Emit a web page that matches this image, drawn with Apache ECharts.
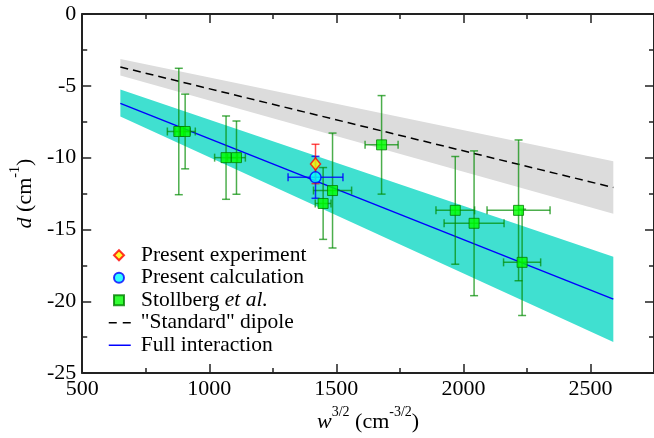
<!DOCTYPE html>
<html><head><meta charset="utf-8">
<script src="https://cdn.jsdelivr.net/npm/echarts@6/dist/echarts.min.js"></script>
<style>html,body{margin:0;padding:0;background:#fff}#c{width:654px;height:438px}</style>
</head><body><div id="c"></div>
<script>
// ---- data ----
const xTickInterval = 500;
const yTickInterval = 5;
const lineX = [650, 2590];
const fullY = [-6.22, -19.85];
const dipoleY = [-3.69, -12.08];
const cyanUpper = [-5.26, -16.9];
const cyanLower = [-7.14, -22.84];
const grayUpper = [-3.13, -10.26];
const grayLower = [-4.29, -13.9];
const stX = [880, 905, 1066, 1107, 1448, 1485, 1678, 1968, 2042, 2217, 2231];
const stY = [-8.18, -8.18, -10.0, -10.0, -13.19, -12.29, -9.11, -13.67, -14.57, -13.67, -17.29];
const stXErr = [45, 40, 45, 35, 31, 75, 65, 76, 118, 124, 73];
const stYErr = [4.4, 2.6, 2.9, 2.55, 2.5, 4.0, 3.43, 3.75, 5.04, 4.9, 3.7];
const expX = [1418], expY = [-10.44], expXErr = [0], expYErr = [1.37];
const calcX = [1418], calcY = [-11.37], calcXErr = [108], calcYErr = [1.46];

const FONT = "'Liberation Serif','Times New Roman',serif";
const chart = echarts.init(document.getElementById('c'), null, {renderer: 'canvas'});

function zipPts(xs, ys) { return xs.map((x, i) => [x, ys[i]]); }
function zipErr(xs, ys, ex, ey) { return xs.map((x, i) => [x, ys[i], ex[i], ey[i]]); }

function bandRender(upper, lower, color) {
  return function (params, api) {
    const pts = [
      api.coord([lineX[0], upper[0]]), api.coord([lineX[1], upper[1]]),
      api.coord([lineX[1], lower[1]]), api.coord([lineX[0], lower[0]])
    ];
    return {type: 'polygon', shape: {points: pts}, style: {fill: color}};
  };
}
function errRender(color) {
  return function (params, api) {
    const x = api.value(0), y = api.value(1), ex = api.value(2), ey = api.value(3);
    const ch = [];
    const cap = 4;
    const st = {stroke: color, lineWidth: 1.5};
    function L(x1, y1, x2, y2) { ch.push({type: 'line', shape: {x1, y1, x2, y2}, style: st}); }
    if (ey > 0) {
      const t = api.coord([x, y + ey]), b = api.coord([x, y - ey]);
      L(t[0], t[1], b[0], b[1]); L(t[0] - cap, t[1], t[0] + cap, t[1]); L(b[0] - cap, b[1], b[0] + cap, b[1]);
    }
    if (ex > 0) {
      const l = api.coord([x - ex, y]), r = api.coord([x + ex, y]);
      L(l[0], l[1], r[0], r[1]); L(l[0], l[1] - cap, l[0], l[1] + cap); L(r[0], r[1] - cap, r[0], r[1] + cap);
    }
    return {type: 'group', children: ch};
  };
}

const axisLineStyle = {color: '#222', width: 2};
const nameRich = {
  i: {fontFamily: FONT, fontSize: 22, fontStyle: 'italic', color: '#000', lineHeight: 28, verticalAlign: 'bottom'},
  n: {fontFamily: FONT, fontSize: 22, color: '#000', lineHeight: 28, verticalAlign: 'bottom'},
  sup: {fontFamily: FONT, fontSize: 14, color: '#000', lineHeight: 14, verticalAlign: 'top'}
};
function xAx(pos, major, showLabel) {
  return {
    type: 'value', min: 500, max: 2750, interval: major ? xTickInterval : xTickInterval / 2, position: pos,
    axisLine: {show: major, onZero: false, lineStyle: axisLineStyle},
    axisTick: {show: true, inside: true, length: major ? 9 : 5, lineStyle: {color: '#222', width: 1.5}},
    axisLabel: {show: showLabel, fontFamily: FONT, fontSize: 22, color: '#000', margin: 5, showMaxLabel: false,
                formatter: v => String(v)},
    splitLine: {show: false}
  };
}
function yAx(pos, major, showLabel) {
  return {
    type: 'value', min: -25, max: 0, interval: major ? yTickInterval : yTickInterval / 2, position: pos,
    axisLine: {show: major, onZero: false, lineStyle: axisLineStyle},
    axisTick: {show: true, inside: true, length: major ? 9 : 5, lineStyle: {color: '#222', width: 1.5}},
    axisLabel: {show: showLabel, fontFamily: FONT, fontSize: 22, color: '#000', margin: 6, formatter: v => String(v)},
    splitLine: {show: false}
  };
}
const xAxes = [xAx('bottom', true, true), xAx('bottom', false, false), xAx('top', true, false), xAx('top', false, false)];
xAxes[0].name = '{i|w}{sup|3/2}{n| (cm}{sup|-3/2}{n|)}';
xAxes[0].nameLocation = 'middle';
xAxes[0].nameGap = 28;
xAxes[0].nameTextStyle = {rich: nameRich};
const yAxes = [yAx('left', true, true), yAx('left', false, false), yAx('right', true, false), yAx('right', false, false)];
yAxes[0].name = '{i|d}{n| (cm}{sup|-1}{n|)}';
yAxes[0].nameLocation = 'middle';
yAxes[0].nameGap = 40;
yAxes[0].nameRotate = 90;
yAxes[0].nameTextStyle = {rich: nameRich};

const legendText = {
  fontFamily: FONT, fontSize: 21.5, color: '#000', lineHeight: 22.5,
  rich: {
    n: {fontFamily: FONT, fontSize: 21.5, color: '#000', lineHeight: 22.5},
    i: {fontFamily: FONT, fontSize: 21.5, color: '#000', fontStyle: 'italic', lineHeight: 22.5}
  }
};
const fmt = name => name === 'Stollberg' ? '{n|Stollberg }{i|et al.}' : name;

const option = {
  animation: false,
  backgroundColor: '#fff',
  grid: {left: 81, right: -6, top: 14, bottom: 62, containLabel: false},
  xAxis: xAxes,
  yAxis: yAxes,
  legend: [
    {data: ['Present experiment', 'Present calculation', 'Stollberg'], orient: 'vertical', left: 113, top: 244, padding: 0,
     itemWidth: 10, itemHeight: 10, itemGap: 0, formatter: fmt, textStyle: Object.assign({padding: [0, 0, 0, 12]}, legendText)},
    {data: [
       {name: '"Standard" dipole', itemStyle: {opacity: 0}, lineStyle: {color: '#000', width: 1.5, type: [8, 6], opacity: 1}},
       {name: 'Full interaction', itemStyle: {opacity: 0}, lineStyle: {color: '#0000ff', width: 1.5, type: 'solid', opacity: 1}}
     ], orient: 'vertical', left: 108, top: 311.5, padding: 0,
     itemWidth: 22, itemHeight: 12, itemGap: 0, formatter: fmt, textStyle: Object.assign({padding: [0, 0, 0, 5]}, legendText)}
  ],
  series: [
    {type: 'custom', name: 'grayBand', renderItem: bandRender(grayUpper, grayLower, '#dcdcdc'), data: [[lineX[0], grayUpper[0]]], z: 1, silent: true},
    {type: 'custom', name: 'cyanBand', renderItem: bandRender(cyanUpper, cyanLower, '#40e0d0'), data: [[lineX[0], cyanUpper[0]]], z: 1, silent: true},
    {type: 'line', name: '"Standard" dipole', data: zipPts(lineX, dipoleY), symbol: 'none', z: 2,
     lineStyle: {color: '#000', width: 1.5, type: [8, 5]}, itemStyle: {color: '#000'}},
    {type: 'line', name: 'Full interaction', data: zipPts(lineX, fullY), symbol: 'none', z: 2,
     lineStyle: {color: '#0000ff', width: 1.5}, itemStyle: {color: '#0000ff'}},
    {type: 'custom', name: 'stErr', renderItem: errRender('rgba(0,140,0,0.7)'), data: zipErr(stX, stY, stXErr, stYErr), z: 3},
    {type: 'custom', name: 'calcErr', renderItem: errRender('rgba(0,0,255,0.8)'), data: zipErr(calcX, calcY, calcXErr, calcYErr), z: 3},
    {type: 'custom', name: 'expErr', renderItem: errRender('rgba(255,0,0,0.7)'), data: zipErr(expX, expY, expXErr, expYErr), z: 3},
    {type: 'scatter', name: 'Stollberg', data: zipPts(stX, stY), symbol: 'rect', symbolSize: 10, z: 4,
     itemStyle: {color: '#00ff00', borderColor: '#008000', borderWidth: 1}},
    {type: 'scatter', name: 'Present calculation', data: zipPts(calcX, calcY), symbol: 'circle', symbolSize: 11, z: 4,
     itemStyle: {color: '#00ffff', borderColor: '#0000ff', borderWidth: 1.5}},
    {type: 'scatter', name: 'Present experiment', data: zipPts(expX, expY), symbol: 'diamond', symbolSize: [10, 12], z: 5,
     itemStyle: {color: '#ffff00', borderColor: '#ff0000', borderWidth: 1.5}}
  ]
};
chart.setOption(option);
</script></body></html>
